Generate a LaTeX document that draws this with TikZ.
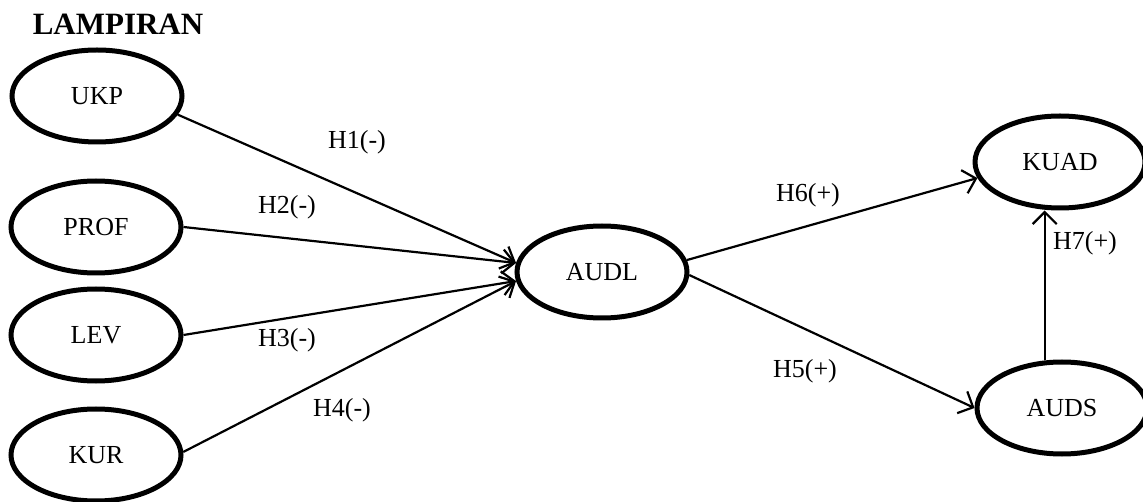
\documentclass[tikz,border=0pt]{standalone}
\usepackage{fontspec}
\setmainfont{Liberation Serif}
\usetikzlibrary{shapes.geometric,arrows.meta}
\begin{document}
\begin{tikzpicture}[x=1pt,y=-1pt,
  var/.style={ellipse,draw,line width=5pt,minimum width=170pt,minimum height=92pt,inner sep=0pt,font=\fontsize{26}{30}\selectfont},
  arr/.style={line width=2.2pt,-{Straight Barb[length=12pt,width=24pt,line width=2.2pt]}},
  lbl/.style={font=\fontsize{26}{30}\selectfont,inner sep=0pt}]
\useasboundingbox (0,0) rectangle (1143,502);
\clip (0,0) rectangle (1143,502);
\node[font=\fontsize{31}{36}\selectfont\bfseries,inner sep=0pt] (title) at (118,24) {LAMPIRAN};
\node[var] (ukp) at (97,96) {UKP};
\node[var] (prof) at (96,227) {PROF};
\node[var] (lev) at (96,335) {LEV};
\node[var] (kur) at (96,455) {KUR};
\node[var] (audl) at (602,272) {AUDL};
\node[var] (kuad) at (1060,162) {KUAD};
\node[var] (auds) at (1062,408) {AUDS};
\draw[arr] (ukp.-13) -- (audl.174);
\draw[arr] (prof.east) -- (audl.174);
\draw[arr] (lev.east) -- (audl.186);
\draw[arr] (kur.2) -- (audl.186);
\draw[arr] (audl.8) -- (kuad.191);
\draw[arr] (audl.-2) -- (auds.west);
\draw[arr] (auds.110) -- (auds.110 |- kuad.south);
\node[lbl] (h1) at (357,142) {H1(-)};
\node[lbl] (h2) at (287,207) {H2(-)};
\node[lbl] (h3) at (287,340) {H3(-)};
\node[lbl] (h4) at (342,410) {H4(-)};
\node[lbl] (h6) at (808,195) {H6(+)};
\node[lbl] (h5) at (805,371) {H5(+)};
\node[lbl] (h7) at (1085,243) {H7(+)};
\end{tikzpicture}
\end{document}
